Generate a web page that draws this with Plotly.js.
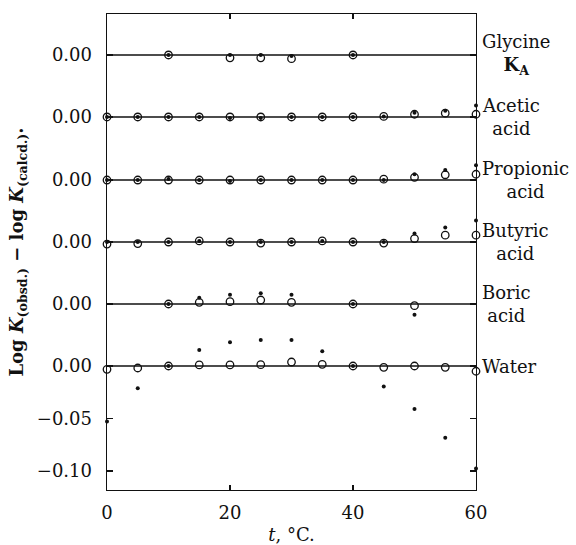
<!DOCTYPE html>
<html>
<head>
<meta charset="utf-8">
<script src="https://cdn.plot.ly/plotly-3.0.1.min.js"></script>
<style>html,body{margin:0;padding:0;background:#fff;}#chart{width:576px;height:545px;}</style>
</head>
<body>
<div id="chart"></div>
<script>
// Temperatures (°C)
const temps = [0, 5, 10, 15, 20, 25, 30, 35, 40, 45, 50, 55, 60];

// Deviations log K(obsd.) - log K(calcd.) : open circles and dots, per system
const glycineCircle   = [null, null, 0, null, -0.0027, -0.0027, -0.0035, null, 0, null, null, null, null];
const glycineDot      = [null, null, 0, null, 0, 0, -0.001, null, 0, null, null, null, null];
const aceticCircle    = [0, 0, 0, 0, 0, 0, 0, 0, 0, 0.0005, 0.0026, 0.0036, 0.0026];
const aceticDot       = [0, 0, 0, 0, -0.001, -0.001, 0, 0, 0, 0.0005, 0.004, 0.006, 0.011];
const propionicCircle = [0, 0, 0, 0, 0, 0, 0, 0, 0, 0.0008, 0.0026, 0.005, 0.0055];
const propionicDot    = [0, 0, 0.001, 0, -0.001, 0, 0, 0, 0, 0, 0.0054, 0.0095, 0.014];
const butyricCircle   = [-0.002, -0.0015, 0, 0.001, 0, -0.001, 0, 0.001, 0, -0.001, 0.0033, 0.0065, 0.0065];
const butyricDot      = [0, 0, 0, 0.001, 0, 0, 0, 0.001, 0, 0, 0.008, 0.0137, 0.0205];
const boricCircle     = [null, null, 0, 0.0016, 0.0022, 0.0038, 0.0016, null, 0, null, -0.0016, null, null];
const boricDot        = [null, null, 0, 0.006, 0.0088, 0.0102, 0.0088, null, 0, null, -0.0102, null, null];
const waterCircle     = [-0.0032, -0.0019, 0, 0.001, 0.001, 0.0013, 0.0038, 0.0016, 0, -0.0013, 0, -0.0013, -0.005];
const waterDot        = [-0.0527, -0.0212, 0, 0.0152, 0.0226, 0.0248, 0.0248, 0.014, 0, -0.0194, -0.041, -0.0683, -0.0975];

// System names (right-hand labels)
const systemLabels = ["Glycine<br><b>K<sub>A</sub></b>", "Acetic<br>acid", "Propionic<br>acid", "Butyric<br>acid", "Boric<br>acid", "Water"];
const circleSeries = [glycineCircle, aceticCircle, propionicCircle, butyricCircle, boricCircle, waterCircle];
const dotSeries    = [glycineDot, aceticDot, propionicDot, butyricDot, boricDot, waterDot];

// Vertical stacking of each system's zero line
const levelOffset = [0.296, 0.237, 0.177, 0.118, 0.059, 0];

// Y tick labels
const extraTickVals = [-0.05, -0.10];
const zeroTickText = "0.00";
const extraTickText = ["\u22120.05", "\u22120.10"];
const xTicks = [0, 20, 40, 60];

const FONT = "DejaVu Serif, Liberation Serif, serif";
const traces = [];
const xMin = temps[0], xMax = temps[temps.length - 1];

levelOffset.forEach((off, i) => {
  traces.push({
    x: [xMin, xMax], y: [off, off], mode: "lines", type: "scatter",
    line: {color: "#111", width: 1.4}, hoverinfo: "skip", showlegend: false, cliponaxis: false
  });
});
circleSeries.forEach((arr, i) => {
  traces.push({
    x: temps, y: arr.map(v => v === null ? null : v + levelOffset[i]),
    mode: "markers", type: "scatter", showlegend: false, cliponaxis: false,
    marker: {symbol: "circle-open", size: 7.5, color: "#111", line: {width: 1.3, color: "#111"}}
  });
});
dotSeries.forEach((arr, i) => {
  traces.push({
    x: temps, y: arr.map(v => v === null ? null : v + levelOffset[i]),
    mode: "markers", type: "scatter", showlegend: false, cliponaxis: false,
    marker: {symbol: "circle", size: 4, color: "#111"}
  });
});

const annotations = systemLabels.map((t, i) => ({
  text: t, xref: "paper", yref: "y", x: 1, y: levelOffset[i],
  xanchor: "left", yanchor: "middle", xshift: 4, align: "center", showarrow: false,
  font: {family: FONT, size: 18, color: "#111"}
}));

const layout = {
  width: 576, height: 545,
  margin: {l: 107, r: 100, t: 14, b: 55},
  paper_bgcolor: "#fff", plot_bgcolor: "#fff",
  font: {family: FONT, color: "#111", size: 18},
  showlegend: false,
  xaxis: {
    range: [0, 60], tickvals: xTicks, ticktext: xTicks.map(String),
    ticks: "inside", ticklen: 5, tickwidth: 1.2, tickcolor: "#111",
    showline: true, linecolor: "#111", linewidth: 1.4, mirror: "ticks",
    showgrid: false, zeroline: false, ticklabelstandoff: 6,
    tickfont: {family: FONT, size: 18, color: "#111"},
    title: {text: "<i>t</i>, °C.", font: {family: FONT, size: 18, color: "#111"}, standoff: 8}
  },
  yaxis: {
    range: [-0.118, 0.335],
    tickvals: levelOffset.concat(extraTickVals),
    ticktext: levelOffset.map(() => zeroTickText).concat(extraTickText),
    ticks: "inside", ticklen: 6, tickwidth: 1.2, tickcolor: "#111",
    showline: true, linecolor: "#111", linewidth: 1.4, mirror: "ticks",
    showgrid: false, zeroline: false, ticklabelstandoff: 10,
    tickfont: {family: FONT, size: 18, color: "#111"},
    title: {text: "<b>Log <i>K</i><sub>(obsd.)</sub> \u2212 log <i>K</i><sub>(calcd.)</sub>.</b>",
            font: {family: FONT, size: 18, color: "#111"}, standoff: 8}
  },
  annotations: annotations
};

Plotly.newPlot("chart", traces, layout, {staticPlot: true, displayModeBar: false});
</script>
</body>
</html>
